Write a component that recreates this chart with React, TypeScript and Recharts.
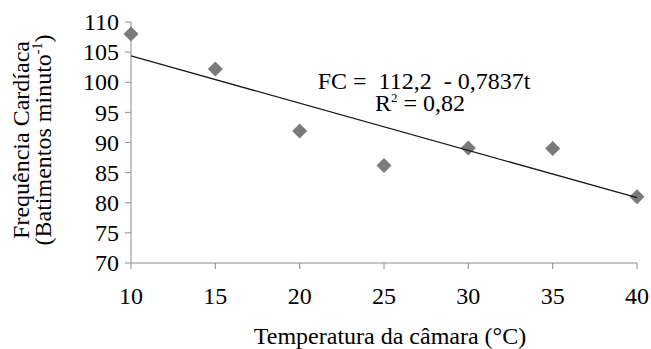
import { ScatterChart, Scatter, XAxis, YAxis } from "recharts";

// Temperatura da câmara (°C) e frequência cardíaca medida
const temperatura = [10, 15, 20, 25, 30, 35, 40];
const frequencia = [108, 102.2, 91.9, 86.2, 89.1, 89.0, 81.0];

const xTicks = [10, 15, 20, 25, 30, 35, 40];
const yTicks = [70, 75, 80, 85, 90, 95, 100, 105, 110];

// Regressão linear: FC = 112,2 - 0,7837t
const intercepto = 112.2;
const inclinacao = -0.7837;

const pontos = temperatura.map((t, i) => ({ x: t, y: frequencia[i] }));
const tendencia = [10, 40].map((t) => ({ x: t, y: intercepto + inclinacao * t }));

const SERIF = { fontFamily: "'Liberation Serif', 'DejaVu Serif', serif" };
const FS = 24;
const EIXO = "#8c8c8c";

function Losango(props: any) {
  const { cx, cy } = props;
  const r = 7.5;
  return (
    <polygon
      points={`${cx},${cy - r} ${cx + r},${cy} ${cx},${cy + r} ${cx - r},${cy}`}
      fill="#7a7a7a"
    />
  );
}

function TickX(props: any) {
  const { x, y, payload } = props;
  return (
    <text x={x} y={y + 33} textAnchor="middle" fontSize={FS} style={SERIF} fill="#000">
      {payload.value}
    </text>
  );
}

function TickY(props: any) {
  const { x, y, payload } = props;
  return (
    <text x={x} y={y + 8.2} textAnchor="end" fontSize={FS} style={SERIF} fill="#000">
      {payload.value}
    </text>
  );
}

export default function App() {
  return (
    <div style={{ position: "absolute", left: 0, top: 0, background: "#fff" }}>
      <ScatterChart
        width={651}
        height={349}
        margin={{ top: 22, right: 14, bottom: 46, left: 71 }}
      >
        <XAxis
          type="number"
          dataKey="x"
          domain={[10, 40]}
          ticks={xTicks}
          tickSize={6}
          tickMargin={2}
          stroke={EIXO}
          tick={<TickX />}
          height={40}
        />
        <YAxis
          type="number"
          dataKey="y"
          domain={[70, 110]}
          ticks={yTicks}
          tickSize={6}
          tickMargin={6}
          stroke={EIXO}
          tick={<TickY />}
          width={60}
        />
        <Scatter data={pontos} shape={<Losango />} isAnimationActive={false} />
        <Scatter
          data={tendencia}
          line={{ stroke: "#1a1a1a", strokeWidth: 1.3 }}
          shape={() => <g />}
          isAnimationActive={false}
        />

        {/* equação e coeficiente de determinação */}
        <text
          x={424}
          y={89}
          textAnchor="middle"
          fontSize={FS}
          fill="#000"
          style={{ ...SERIF, whiteSpace: "pre" }}
        >
          {"FC =  112,2  - 0,7837t"}
        </text>
        <text x={420} y={111} textAnchor="middle" fontSize={FS} style={SERIF} fill="#000">
          R<tspan fontSize={13} dy={-9}>2</tspan>
          <tspan dy={9}> = 0,82</tspan>
        </text>

        {/* títulos dos eixos */}
        <text x={390} y={344} textAnchor="middle" fontSize={FS} style={SERIF} fill="#000">
          Temperatura da câmara (°C)
        </text>
        <text
          transform="translate(29,140) rotate(-90)"
          textAnchor="middle"
          fontSize={FS}
          style={SERIF}
          fill="#000"
        >
          Frequência Cardíaca
        </text>
        <text
          transform="translate(51,140) rotate(-90)"
          textAnchor="middle"
          fontSize={FS}
          style={SERIF}
          fill="#000"
        >
          (Batimentos minuto<tspan fontSize={14} dy={-9}>-1</tspan>
          <tspan dy={9}>)</tspan>
        </text>
      </ScatterChart>
    </div>
  );
}
